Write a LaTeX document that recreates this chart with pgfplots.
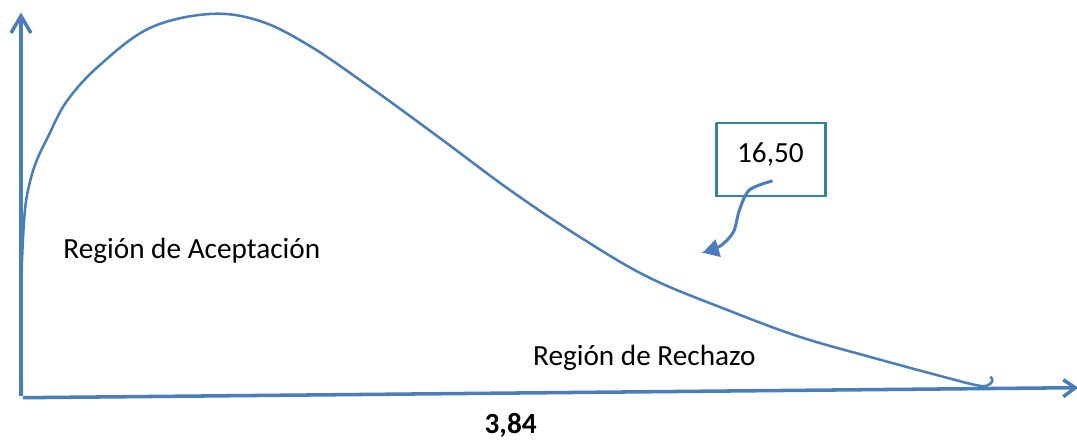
\documentclass[border=0pt]{standalone}
\usepackage{fontspec}
\setmainfont{Carlito}
\usepackage{pgfplots}
\pgfplotsset{compat=1.18}
\usetikzlibrary{arrows.meta}
\definecolor{cblue}{HTML}{4A7EBB}
\definecolor{cteal}{HTML}{31849B}
\begin{document}
\begin{tikzpicture}
\begin{axis}[
  scale only axis, width=15cm, height=6.1142cm,
  xmin=0, xmax=1077, ymin=0, ymax=439, y dir=reverse,
  hide axis, clip=false]
\path (axis cs:0,0) rectangle (axis cs:1077,439);
% axes
\addplot[cblue, line width=1.4pt] coordinates {(21,396) (21,16)};
\addplot[cblue, line width=1.4pt] coordinates {(11,33) (21,16) (31,33)};
\addplot[cblue, line width=1.4pt] coordinates {(23,398) (1075,388)};
\addplot[cblue, line width=1.4pt] coordinates {(1064,380) (1076,388) (1064,397)};
% curve
\addplot[cblue, line width=1pt, smooth, tension=0.6] coordinates {
(22,395) (21,320) (22,262) (25,210) (30,182) (37,160) (48,137) (67,101)
(100,65) (150,28) (210,14) (260,21) (310,46) (370,87)
(440,138) (510,190) (580,237) (650,278) (730,311)
(800,337) (870,357) (940,376) (980,386) (991,384) (993,380) (991,377)};
% box
\addplot[cteal, line width=1pt] coordinates {(717,123) (826,123) (826,196) (717,196) (717,123)};
\node[font=\fontsize{11.6}{13}\selectfont] at (axis cs:771,155) {16,50};
% curved arrow
\addplot[cblue, line width=1.2pt, smooth, -{Triangle[length=6.5pt,width=7pt]}] coordinates {
(773,181) (750,190) (740,210) (734,232) (721,246) (703,253)};
% labels
\node[font=\fontsize{11.6}{13}\selectfont, anchor=west, inner sep=0pt] at (axis cs:63,251) {Región de Aceptación};
\node[font=\fontsize{11.6}{13}\selectfont, anchor=west, inner sep=0pt] at (axis cs:533,358) {Región de Rechazo};
\node[font=\fontsize{11.6}{13}\selectfont\bfseries] at (axis cs:511,426) {3,84};
\end{axis}
\end{tikzpicture}
\end{document}
